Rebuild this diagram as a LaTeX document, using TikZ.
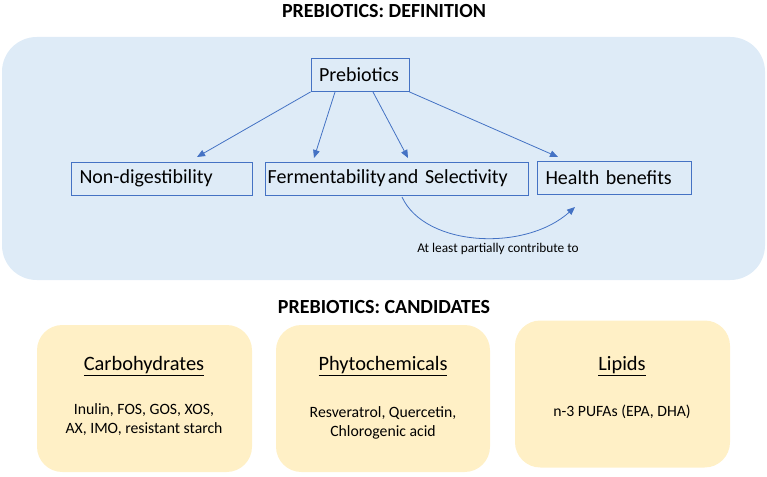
\documentclass[tikz,border=0pt]{standalone}
\usepackage{fontspec}
\setmainfont{Carlito}
\usetikzlibrary{arrows.meta,calc}
\definecolor{panelblue}{HTML}{DEEBF7}
\definecolor{boxline}{HTML}{4472C4}
\definecolor{panelyellow}{HTML}{FFF0C6}
\tikzset{
  title/.style={font=\fontsize{15}{17}\selectfont\bfseries, inner sep=0pt},
  bluepanel/.style={fill=panelblue, draw=none, rounded corners=26pt, inner sep=0pt},
  ybox/.style={fill=panelyellow, draw=none, rounded corners=19pt, inner sep=0pt},
  defbox/.style={draw=boxline, line width=0.6pt, fill=panelblue, inner xsep=6pt, inner ysep=0pt, minimum height=24.75pt, align=left, font=\fontsize{15}{17}\selectfont},
  conn/.style={draw=boxline, line width=0.6pt, -{Triangle[length=6pt,width=5pt]}},
  head/.style={font=\fontsize{15.3}{18}\selectfont, inner sep=0pt},
  body/.style={font=\fontsize{11.8}{14.3}\selectfont, align=center, inner sep=0pt},
  small/.style={font=\fontsize{10}{12}\selectfont, inner sep=0pt}
}
\newcommand{\ulhead}[1]{\underline{#1}}
\begin{document}
\begin{tikzpicture}[x=0.75pt,y=-0.75pt]
\useasboundingbox (0,0) rectangle (767,477);
\node[title] (t1) at (384,11) {PREBIOTICS: DEFINITION};
\node[bluepanel, minimum width=572.25pt, minimum height=182.25pt] (panel) at (383.5,158.5) {};
\node[defbox, minimum width=73.5pt, text width=61.5pt] (pre) at (360,75) {Prebiotics};
\node[defbox, minimum width=135.75pt, text width=123.75pt] (nd) at (162,178.5) {Non-digestibility};
\node[defbox, inner xsep=2pt, minimum width=197.25pt, text width=193.25pt] (fs) at (396.5,178.5) {Fermentability\hspace{0.1em}and Selectivity};
\node[defbox, minimum width=115.5pt, text width=103.5pt] (hb) at (614.5,178) {Health benefits};
\coordinate (a1) at (197,157);
\coordinate (a2) at (314,158);
\coordinate (a3) at (408,158);
\coordinate (a4) at (558,157);
\coordinate (p2) at (335,92);
\coordinate (p3) at (373,92);
\coordinate (cs) at (402,197);
\coordinate (ce) at (575,207);
\draw[conn] (pre.south west) -- (a1);
\draw[conn] (p2) -- (a2);
\draw[conn] (p3) -- (a3);
\draw[conn] (pre.south east) -- (a4);
\draw[conn] (cs) .. controls (425,247) and (525,252) .. (ce);
\node[small] (lbl) at (498,249) {At least partially contribute to};
\node[title] (t2) at (384,307) {PREBIOTICS: CANDIDATES};
\node[ybox, minimum width=161.25pt, minimum height=110.25pt] (y1) at (144.5,398.5) {};
\node[ybox, minimum width=160.5pt, minimum height=110.25pt] (y2) at (383,398.5) {};
\node[ybox, minimum width=161.25pt, minimum height=110.25pt] (y3) at (622.5,394) {};
\node[head] (h1) at (144,366) {\ulhead{Carbohydrates}};
\node[head] (h2) at (383,366) {\ulhead{Phytochemicals}};
\node[head] (h3) at (622,366) {\ulhead{Lipids}};
\node[body] (b1) at (144,419.5) {Inulin, FOS, GOS, XOS,\\AX, IMO, resistant starch};
\node[body] (b2) at (383,422.5) {Resveratrol, Quercetin,\\Chlorogenic acid};
\node[body] (b3) at (622,412) {n-3 PUFAs (EPA, DHA)};
\end{tikzpicture}
\end{document}
